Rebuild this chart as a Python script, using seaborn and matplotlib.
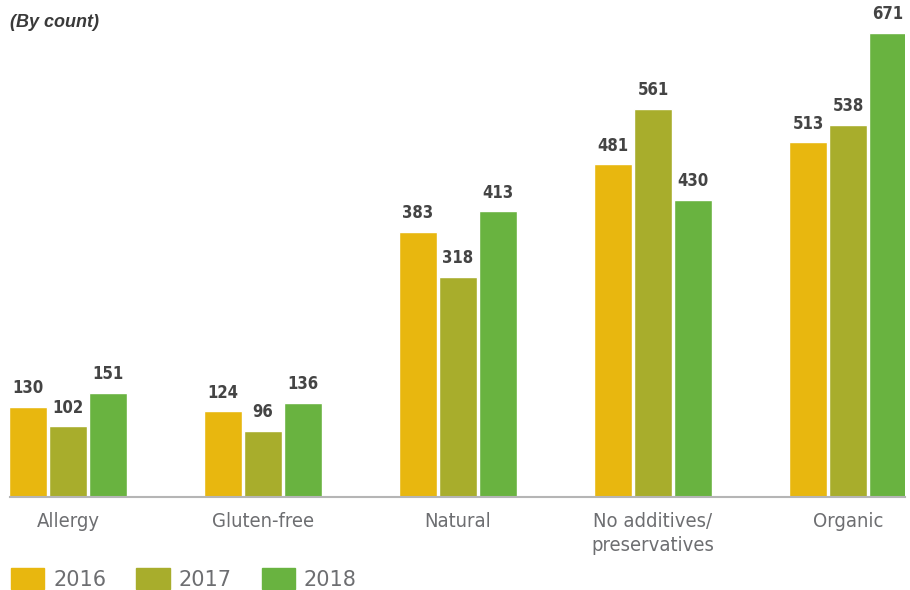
import pandas as pd
import matplotlib.pyplot as plt
import seaborn as sns

categorias = ["Allergy", "Gluten-free", "Natural", "No additives/\npreservatives", "Organic"]
anios = ["2016", "2017", "2018"]
valores_2016 = [130, 124, 383, 481, 513]
valores_2017 = [102, 96, 318, 561, 538]
valores_2018 = [151, 136, 413, 430, 671]

colores = ["#E8B70F", "#A8AD2C", "#69B340"]

df = pd.DataFrame({
    "categoria": categorias * 3,
    "anio": [a for a in anios for _ in categorias],
    "valor": valores_2016 + valores_2017 + valores_2018,
})

sns.set_style("white")
plt.rcParams["font.family"] = ["DejaVu Sans"]

fig = plt.figure(figsize=(9.1, 5.9), dpi=100)
ax = fig.add_axes([0.011, 0.1576, 0.9835, 0.8424])

sns.barplot(data=df, x="categoria", y="valor", hue="anio", palette=colores,
            width=0.615, gap=0.07, ax=ax, legend=False, saturation=1)

ax.set_ylim(0, 718.7)
ax.set_xlim(-0.297, 4.292)

for cont in ax.containers:
    ax.bar_label(cont, padding=7, fontsize=12, fontweight="bold", color="#444444",
                 fontstretch="condensed")

ax.set_xlabel("")
ax.set_ylabel("")
ax.set_yticks([])
sns.despine(ax=ax, left=True)
ax.spines["bottom"].set_color("#b5b5b5")
ax.spines["bottom"].set_linewidth(1.5)
ax.tick_params(axis="x", length=0, pad=11, labelsize=14.5, labelcolor="#6d6e71")
for lbl in ax.get_xticklabels():
    lbl.set_verticalalignment("top")
    lbl.set_linespacing(1.3)
    lbl.set_fontstretch("condensed")

fig.text(0.011, 0.962, "(By count)", fontsize=13, style="italic", fontweight="bold",
         color="#3a3a3a", family=["Liberation Sans", "DejaVu Sans"], va="center")

handles = [plt.Rectangle((0, 0), 1, 1, color=c) for c in colores]
fig.legend(handles, anios, loc="lower left", bbox_to_anchor=(-0.004, -0.024), ncol=3,
           frameon=False, handlelength=1.6, handleheight=1.15, handletextpad=0.42,
           columnspacing=1.45, borderpad=0.2,
           prop={"family": ["DejaVu Sans"], "size": 15})
for t in fig.legends[0].get_texts():
    t.set_color("#6d6e71")

fig.savefig("out.png", dpi=100)
